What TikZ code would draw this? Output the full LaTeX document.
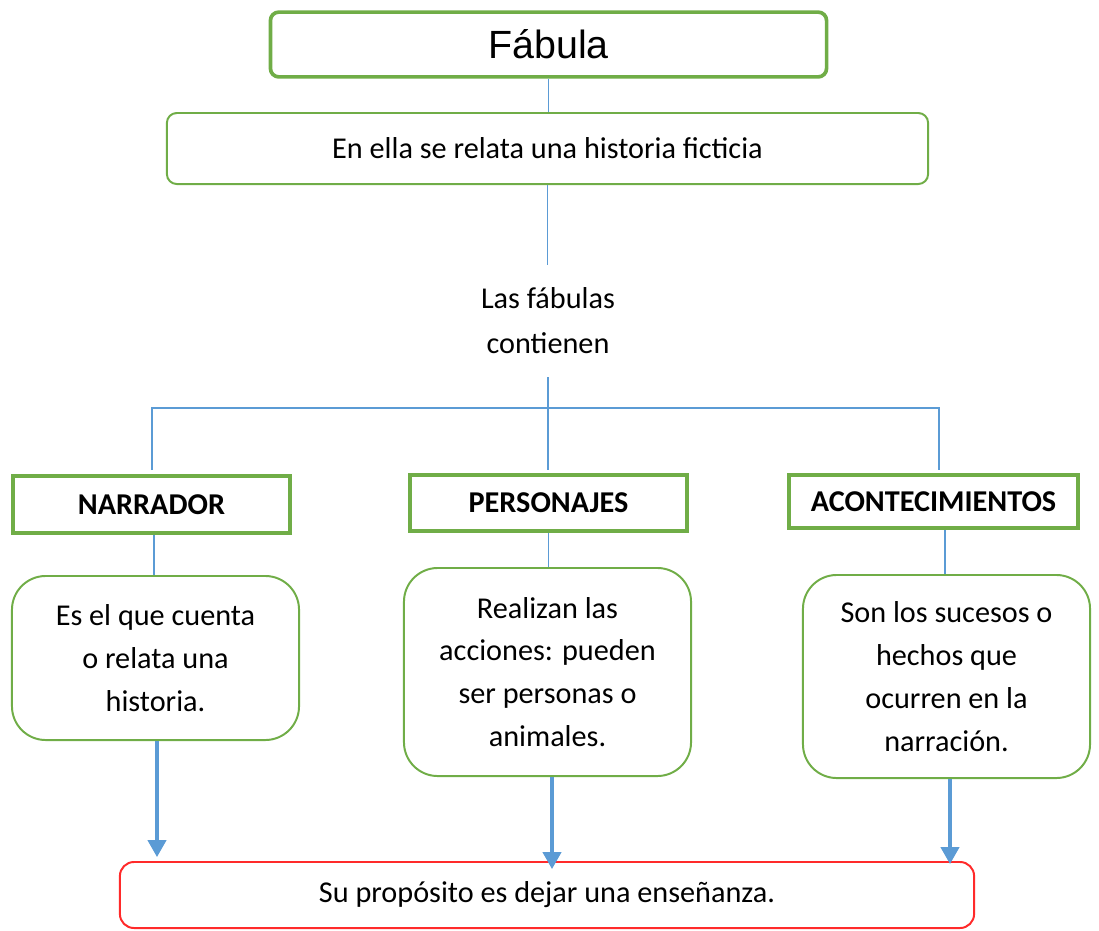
\documentclass[tikz,border=0pt]{standalone}
\usepackage{fontspec}
\setmainfont{Carlito}
\newfontfamily\arialf{Liberation Sans}
\usetikzlibrary{arrows.meta}
\definecolor{gr}{HTML}{70AD47}
\definecolor{bl}{HTML}{5B9BD5}
\definecolor{rd}{HTML}{FF2A2A}
\tikzset{
  title/.style={draw=gr, line width=2.6pt, rounded corners=6pt, minimum width=13.9cm, minimum height=1.62cm, font=\arialf\fontsize{28}{32}\selectfont},
  rbox/.style={draw=gr, line width=1.4pt, rounded corners=7pt, font=\fontsize{21.5}{30}\selectfont},
  label/.style={draw=gr, line width=2.6pt, font=\bfseries\fontsize{21.5}{30}\selectfont},
  desc/.style={draw=gr, line width=1.4pt, rounded corners=24pt, minimum width=7.175cm, align=center, font=\fontsize{21.5}{30.5}\selectfont},
  plain/.style={align=center, font=\fontsize{21.5}{32}\selectfont},
  goal/.style={draw=rd, line width=1.4pt, rounded corners=10pt, minimum width=21.35cm, minimum height=1.65cm, font=\fontsize{21.5}{30}\selectfont},
  conn/.style={draw=bl, line width=1pt},
  arr/.style={draw=bl, line width=2.2pt, -{Triangle[length=12pt,width=13pt]}},
}
\begin{document}
\begin{tikzpicture}[x=0.025cm,y=-0.025cm]
\useasboundingbox (0,0) rectangle (1099,930);
\node[title] (fab) at (548.5,44.5) {\raisebox{-2pt}{Fábula}};
\node[rbox, minimum width=19.025cm, minimum height=1.775cm] (rel) at (547.5,148.5) {En ella se relata una historia ficticia};
\node[plain, minimum height=2.8cm] (las) at (548,321) {Las fábulas\\contienen};
\node[label, minimum width=6.925cm, minimum height=1.425cm] (nar) at (151.5,504.5) {\raisebox{-3pt}{NARRADOR}};
\node[label, minimum width=6.925cm, minimum height=1.4cm] (per) at (548.5,503) {\raisebox{-2pt}{PERSONAJES}};
\node[label, minimum width=7.225cm, minimum height=1.325cm] (aco) at (933.5,501.5) {\raisebox{-3pt}{ACONTECIMIENTOS}};
\node[desc, minimum height=4.1cm] (d1) at (155.5,658) {Es el que cuenta\\o relata una\\historia.};
\node[desc, minimum height=5.2cm] (d2) at (547.5,672) {\raisebox{-2pt}{Realizan las}\\\raisebox{-2pt}{acciones: pueden}\\\raisebox{-2pt}{ser personas o}\\\raisebox{-2pt}{animales.}};
\node[desc, minimum height=5.075cm] (d3) at (946.5,676.5) {\raisebox{-3pt}{Son los sucesos o}\\\raisebox{-3pt}{hechos que}\\\raisebox{-3pt}{ocurren en la}\\\raisebox{-3pt}{narración.}};
\node[goal] (bot) at (547,895) {Su propósito es dejar una enseñanza.};
\coordinate (tl) at (152,408);
\coordinate (tr) at (939,408);
\coordinate (nl) at (152,470);
\coordinate (al) at (939,470);
\coordinate (pm) at (548,470);
\draw[conn] (fab.south) -- (fab.south |- rel.north);
\draw[conn] (rel.south) -- (rel.south |- las.north);
\draw[conn] (las.south) -- (pm);
\draw[conn] (nl) -- (tl) -- (tr) -- (al);
\draw[conn] ([xshift=2.5*0.025cm]nar.south) -- ([xshift=2.5*0.025cm]nar.south |- d1.north);
\draw[conn] (per.south) -- (per.south |- d2.north);
\draw[conn] ([xshift=11.5*0.025cm]aco.south) -- ([xshift=11.5*0.025cm]aco.south |- d3.north);
\draw[arr] ([xshift=1.5*0.025cm]d1.south) -- ([xshift=1.5*0.025cm,yshift=4*0.025cm]d1.south |- bot.north);
\draw[arr] ([xshift=4.5*0.025cm]d2.south) -- ([xshift=4.5*0.025cm,yshift=-8*0.025cm]d2.south |- bot.north);
\draw[arr] ([xshift=3.5*0.025cm]d3.south) -- ([xshift=3.5*0.025cm,yshift=-3*0.025cm]d3.south |- bot.north);
\end{tikzpicture}
\end{document}
